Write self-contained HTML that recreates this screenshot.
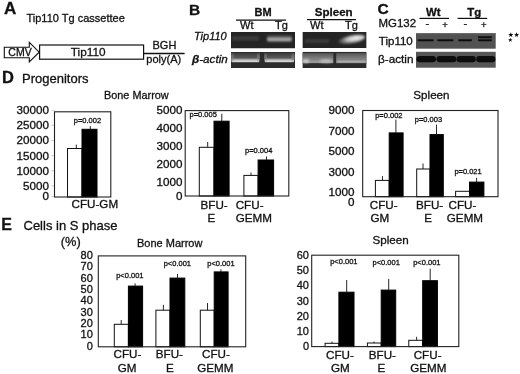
<!DOCTYPE html>
<html><head><meta charset="utf-8"><style>
html,body{margin:0;padding:0;background:#fff;}
body{width:520px;height:374px;overflow:hidden;}
svg{display:block;font-family:"Liberation Sans", sans-serif;filter:grayscale(1);}
text{stroke:#111;stroke-width:0.3px;paint-order:stroke;}
</style></head><body>
<svg width="520" height="374" viewBox="0 0 520 374">
<defs>
<filter id="blur1" x="-20%" y="-50%" width="140%" height="200%"><feGaussianBlur stdDeviation="0.9"/></filter>
<clipPath id="c1"><rect x="231" y="32" width="64" height="16.5"/></clipPath><clipPath id="c2"><rect x="231" y="52" width="64" height="16"/></clipPath><clipPath id="c3"><rect x="302.4" y="32" width="64.2" height="16"/></clipPath><clipPath id="c4"><rect x="302.4" y="51.7" width="64.2" height="16.3"/></clipPath><clipPath id="c5"><rect x="416" y="33" width="79.7" height="15.7"/></clipPath><clipPath id="c6"><rect x="416" y="51.8" width="79.7" height="15.9"/></clipPath>
<linearGradient id="gTip" x1="0" y1="0" x2="0" y2="1"><stop offset="0" stop-color="#444"/><stop offset="0.45" stop-color="#8a8a8a"/><stop offset="0.72" stop-color="#c8c8c8"/><stop offset="1" stop-color="#4a4a4a"/></linearGradient>
<linearGradient id="gUp" x1="0" y1="0" x2="0" y2="1"><stop offset="0" stop-color="#3a3a3a"/><stop offset="1" stop-color="#666"/></linearGradient>
<linearGradient id="gAct" x1="0" y1="0" x2="0" y2="1"><stop offset="0" stop-color="#8a8a8a"/><stop offset="0.55" stop-color="#d0d0d0"/><stop offset="0.8" stop-color="#d8d8d8"/><stop offset="1" stop-color="#666"/></linearGradient>
<linearGradient id="gActS" x1="0" y1="0" x2="0" y2="1"><stop offset="0" stop-color="#505050"/><stop offset="0.3" stop-color="#6e6e6e"/><stop offset="0.7" stop-color="#8a8a8a"/><stop offset="0.88" stop-color="#a2a2a2"/><stop offset="1" stop-color="#404040"/></linearGradient>
<radialGradient id="rTip" cx="0.68" cy="0.4" r="0.65"><stop offset="0" stop-color="#f4f4f4"/><stop offset="0.5" stop-color="#c8c8c8"/><stop offset="1" stop-color="#3a3a3a"/></radialGradient>
<filter id="blur04" x="-20%" y="-80%" width="140%" height="260%"><feGaussianBlur stdDeviation="0.4"/></filter>
<filter id="blur08" x="-20%" y="-80%" width="140%" height="260%"><feGaussianBlur stdDeviation="0.8"/></filter>
<filter id="blur05" x="-20%" y="-80%" width="140%" height="260%"><feGaussianBlur stdDeviation="0.5"/></filter>
</defs>
<rect width="520" height="374" fill="#fff"/>
<text x="4" y="13.6" font-size="17" font-weight="bold" font-style="normal" text-anchor="start" fill="#111" >A</text>
<text x="26.5" y="21.9" font-size="11" font-weight="normal" font-style="normal" text-anchor="start" fill="#111" >Tip110 Tg cassettee</text>
<polygon points="4.3,47.3 29.3,47.3 29.3,42.3 39.2,52.2 29.3,62 29.3,57.7 4.3,57.7" fill="#fff" stroke="#111" stroke-width="1.1"/>
<text x="8.3" y="55.5" font-size="10.5" font-weight="normal" font-style="normal" text-anchor="start" fill="#111" >CMV</text>
<rect x="39.6" y="45" width="104" height="14.2" fill="#fff" stroke="#111" stroke-width="1.2" />
<text x="88.2" y="55.6" font-size="11.8" font-weight="normal" font-style="normal" text-anchor="middle" fill="#111" >Tip110</text>
<line x1="143.6" y1="53.5" x2="184.6" y2="53.5" stroke="#111" stroke-width="1.4"/>
<text x="152.5" y="49.2" font-size="11" font-weight="normal" font-style="normal" text-anchor="start" fill="#111" >BGH</text>
<text x="146.3" y="63" font-size="11" font-weight="normal" font-style="normal" text-anchor="start" fill="#111" >poly(A)</text>
<text x="189" y="15" font-size="15.5" font-weight="bold" font-style="normal" text-anchor="start" fill="#111" >B</text>
<text x="254.5" y="15.9" font-size="11" font-weight="bold" font-style="normal" text-anchor="start" fill="#111" >BM</text>
<line x1="236" y1="20.2" x2="286" y2="20.2" stroke="#111" stroke-width="1.3"/>
<text x="240" y="28.8" font-size="11" font-weight="normal" font-style="normal" text-anchor="start" fill="#111" >Wt</text>
<text x="275" y="28.8" font-size="11" font-weight="normal" font-style="normal" text-anchor="start" fill="#111" >Tg</text>
<text transform="translate(314.8 16) scale(1.05 1)" font-size="11" font-weight="bold" font-style="normal" text-anchor="start" fill="#111" >Spleen</text>
<line x1="307" y1="19.6" x2="356" y2="19.6" stroke="#111" stroke-width="1.3"/>
<text x="310" y="28.8" font-size="11" font-weight="normal" font-style="normal" text-anchor="start" fill="#111" >Wt</text>
<text x="345" y="28.8" font-size="11" font-weight="normal" font-style="normal" text-anchor="start" fill="#111" >Tg</text>
<text x="194" y="40" font-size="11" font-weight="normal" font-style="italic" text-anchor="start" fill="#111" >Tip110</text>
<text transform="translate(192 62.5) scale(1.06 1)" font-size="11" font-style="italic" fill="#111"><tspan font-weight="bold">β</tspan>-actin</text>
<g clip-path="url(#c1)">
<rect x="231" y="32" width="64" height="16.5" fill="#242424" stroke="none" stroke-width="0" />
<rect x="232" y="36.3" width="27" height="4.2" fill="#3e3e3e" filter="url(#blur08)"/>
<rect x="267" y="35.6" width="24.8" height="6.2" rx="2" fill="url(#gTip)" filter="url(#blur08)"/>
</g>
<g clip-path="url(#c2)">
<rect x="231" y="52" width="64" height="16" fill="#2c2c2c" stroke="none" stroke-width="0" />
<rect x="231" y="52.8" width="28.80000000000001" height="7" fill="url(#gUp)" filter="url(#blur05)"/>
<rect x="231.5" y="58.6" width="27.80000000000001" height="4" rx="1.5" fill="url(#gAct)" filter="url(#blur05)"/>
<rect x="231.5" y="54" width="1.8" height="7" fill="#8a8a8a" filter="url(#blur08)"/>
<rect x="257.5" y="54" width="1.8" height="7" fill="#8a8a8a" filter="url(#blur08)"/>
<rect x="264.2" y="52.8" width="30.30000000000001" height="7" fill="url(#gUp)" filter="url(#blur05)"/>
<rect x="264.7" y="58.6" width="29.30000000000001" height="4" rx="1.5" fill="url(#gAct)" filter="url(#blur05)"/>
<rect x="264.7" y="54" width="1.8" height="7" fill="#8a8a8a" filter="url(#blur08)"/>
<rect x="292.2" y="54" width="1.8" height="7" fill="#8a8a8a" filter="url(#blur08)"/>
</g>
<g clip-path="url(#c3)">
<rect x="302.4" y="32" width="64.2" height="16" fill="#242424" stroke="none" stroke-width="0" />
<rect x="305" y="39.2" width="24" height="3.6" fill="#3c3c3c" filter="url(#blur08)"/>
<ellipse cx="351.5" cy="39.6" rx="13.8" ry="4" transform="rotate(-11 351.5 39.6)" fill="url(#rTip)" filter="url(#blur08)"/>
</g>
<g clip-path="url(#c4)">
<rect x="302.4" y="51.7" width="64.2" height="16.3" fill="#2c2c2c" stroke="none" stroke-width="0" />
<rect x="302.4" y="53" width="30.900000000000034" height="10.6" fill="url(#gActS)" filter="url(#blur05)"/>
<rect x="336.2" y="53" width="30.400000000000034" height="10.6" fill="url(#gActS)" filter="url(#blur05)"/>
<ellipse cx="306" cy="61" rx="3.2" ry="2" fill="#c8c8c8" filter="url(#blur08)"/>
<ellipse cx="326" cy="61" rx="6.5" ry="1.8" fill="#bdbdbd" filter="url(#blur08)"/>
<rect x="338" y="60.6" width="27" height="1.8" fill="#aaa" filter="url(#blur05)"/>
</g>
<text x="377.5" y="14" font-size="15.5" font-weight="bold" font-style="normal" text-anchor="start" fill="#111" >C</text>
<text transform="translate(426 15.9) scale(1.04 1)" font-size="11" font-weight="bold" font-style="normal" text-anchor="start" fill="#111" >Wt</text>
<text transform="translate(467.3 15.9) scale(1.04 1)" font-size="11" font-weight="bold" font-style="normal" text-anchor="start" fill="#111" >Tg</text>
<line x1="419.5" y1="18.4" x2="449.1" y2="18.4" stroke="#111" stroke-width="1.2"/>
<line x1="457.6" y1="18.4" x2="487.2" y2="18.4" stroke="#111" stroke-width="1.2"/>
<text transform="translate(378.5 27) scale(1.04 1)" font-size="11" font-weight="normal" font-style="normal" text-anchor="start" fill="#111" >MG132</text>
<text x="427.3" y="27.3" font-size="11" font-weight="normal" font-style="normal" text-anchor="middle" fill="#111" >-</text>
<text x="465.4" y="27.3" font-size="11" font-weight="normal" font-style="normal" text-anchor="middle" fill="#111" >-</text>
<text x="445.1" y="28.2" font-size="9.5" font-weight="normal" font-style="normal" text-anchor="middle" fill="#111" >+</text>
<text x="483.9" y="28.2" font-size="9.5" font-weight="normal" font-style="normal" text-anchor="middle" fill="#111" >+</text>
<text transform="translate(378.8 44.5) scale(1.05 1)" font-size="11" font-weight="normal" font-style="normal" text-anchor="start" fill="#111" >Tip110</text>
<text transform="translate(378 62.8) scale(1.07 1)" font-size="11" font-weight="normal" font-style="normal" text-anchor="start" fill="#111" >β-actin</text>
<rect x="416" y="33" width="79.7" height="15.7" fill="#525252" stroke="none" stroke-width="0" />
<rect x="416" y="51.8" width="79.7" height="15.9" fill="#565656" stroke="none" stroke-width="0" />
<g clip-path="url(#c5)">
<rect x="416" y="33" width="79.7" height="1.2" fill="#6a6a6a" filter="url(#blur05)"/>
<rect x="417.6" y="39.3" width="16.19999999999999" height="1.9" rx="0.9" fill="#0a0a0a" filter="url(#blur04)"/>
<rect x="437.3" y="39.3" width="16.19999999999999" height="1.9" rx="0.9" fill="#0a0a0a" filter="url(#blur04)"/>
<rect x="458.2" y="39.3" width="13.800000000000011" height="1.9" rx="0.9" fill="#0a0a0a" filter="url(#blur04)"/>
<rect x="478" y="39.3" width="14" height="1.9" rx="0.9" fill="#0a0a0a" filter="url(#blur04)"/>
<rect x="478" y="36.2" width="14" height="2" rx="0.9" fill="#0a0a0a" filter="url(#blur04)"/>
</g>
<g clip-path="url(#c6)">
<rect x="416.5" y="55.9" width="19.5" height="6.3" rx="3" fill="#0c0c0c" filter="url(#blur05)"/>
<rect x="436.5" y="55.9" width="19.80000000000001" height="6.3" rx="3" fill="#0c0c0c" filter="url(#blur05)"/>
<rect x="456.5" y="55.9" width="19.30000000000001" height="6.3" rx="3" fill="#0c0c0c" filter="url(#blur05)"/>
<rect x="476.2" y="55.9" width="19.30000000000001" height="6.3" rx="3" fill="#0c0c0c" filter="url(#blur05)"/>
</g>
<polygon points="510.80,32.30 511.48,33.97 513.27,34.10 511.89,35.26 512.33,37.00 510.80,36.05 509.27,37.00 509.71,35.26 508.33,34.10 510.12,33.97" fill="#111" filter="url(#blur04)"/>
<polygon points="516.60,32.30 517.28,33.97 519.07,34.10 517.69,35.26 518.13,37.00 516.60,36.05 515.07,37.00 515.51,35.26 514.13,34.10 515.92,33.97" fill="#111" filter="url(#blur04)"/>
<polygon points="510.30,37.80 510.89,39.19 512.39,39.32 511.25,40.31 511.59,41.78 510.30,41.00 509.01,41.78 509.35,40.31 508.21,39.32 509.71,39.19" fill="#111" filter="url(#blur04)"/>
<text x="2" y="83.4" font-size="16.5" font-weight="bold" font-style="normal" text-anchor="start" fill="#111" >D</text>
<text x="22" y="83.4" font-size="13" font-weight="normal" font-style="normal" text-anchor="start" fill="#111" >Progenitors</text>
<text x="1.3" y="230" font-size="16" font-weight="bold" font-style="normal" text-anchor="start" fill="#111" >E</text>
<text x="23.5" y="230" font-size="13" font-weight="normal" font-style="normal" text-anchor="start" fill="#111" >Cells in S phase</text>
<text x="60.8" y="245.6" font-size="12.8" font-weight="normal" font-style="normal" text-anchor="start" fill="#111" >(%)</text>
<line x1="51.5" y1="110.4" x2="54.5" y2="110.4" stroke="#aaa" stroke-width="0.6"/>
<text transform="translate(49.0 114.2) scale(1.06 1)" font-size="11" font-weight="normal" font-style="normal" text-anchor="end" fill="#111" >30000</text>
<line x1="51.5" y1="125.3" x2="54.5" y2="125.3" stroke="#aaa" stroke-width="0.6"/>
<text transform="translate(49.0 129.1) scale(1.06 1)" font-size="11" font-weight="normal" font-style="normal" text-anchor="end" fill="#111" >25000</text>
<line x1="51.5" y1="140.4" x2="54.5" y2="140.4" stroke="#aaa" stroke-width="0.6"/>
<text transform="translate(49.0 144.20000000000002) scale(1.06 1)" font-size="11" font-weight="normal" font-style="normal" text-anchor="end" fill="#111" >20000</text>
<line x1="51.5" y1="155.7" x2="54.5" y2="155.7" stroke="#aaa" stroke-width="0.6"/>
<text transform="translate(49.0 159.5) scale(1.06 1)" font-size="11" font-weight="normal" font-style="normal" text-anchor="end" fill="#111" >15000</text>
<line x1="51.5" y1="170.8" x2="54.5" y2="170.8" stroke="#aaa" stroke-width="0.6"/>
<text transform="translate(49.0 174.60000000000002) scale(1.06 1)" font-size="11" font-weight="normal" font-style="normal" text-anchor="end" fill="#111" >10000</text>
<line x1="51.5" y1="185.9" x2="54.5" y2="185.9" stroke="#aaa" stroke-width="0.6"/>
<text transform="translate(49.0 189.70000000000002) scale(1.06 1)" font-size="11" font-weight="normal" font-style="normal" text-anchor="end" fill="#111" >5000</text>
<line x1="51.5" y1="196.5" x2="54.5" y2="196.5" stroke="#aaa" stroke-width="0.6"/>
<text transform="translate(49.0 200.3) scale(1.06 1)" font-size="11" font-weight="normal" font-style="normal" text-anchor="end" fill="#111" >0</text>
<rect x="67.5" y="148.5" width="14.5" height="48.5" fill="#fff" stroke="#111" stroke-width="1" />
<rect x="82" y="129.3" width="15" height="67.69999999999999" fill="#000" stroke="#000" stroke-width="1" />
<line x1="76.3" y1="144.6" x2="76.3" y2="148.5" stroke="#111" stroke-width="0.9"/>
<line x1="90.3" y1="126" x2="90.3" y2="129.3" stroke="#111" stroke-width="0.9"/>
<rect x="54.5" y="111.8" width="56.3" height="85.2" fill="none" stroke="#222" stroke-width="1.1" />
<text x="73.8" y="122.6" font-size="7.5" font-weight="normal" font-style="normal" text-anchor="start" fill="#111" >p=0.002</text>
<text transform="translate(71.5 208.1) scale(1.06 1)" font-size="11" font-weight="normal" font-style="normal" text-anchor="start" fill="#111" >CFU-GM</text>
<text transform="translate(104 98.8) scale(0.99 1)" font-size="11" font-weight="normal" font-style="normal" text-anchor="start" fill="#111" >Bone Marrow</text>
<text transform="translate(182.39999999999998 114.0) scale(1.06 1)" font-size="11" font-weight="normal" font-style="normal" text-anchor="end" fill="#111" >5000</text>
<text transform="translate(182.39999999999998 131.9) scale(1.06 1)" font-size="11" font-weight="normal" font-style="normal" text-anchor="end" fill="#111" >4000</text>
<text transform="translate(182.39999999999998 150.0) scale(1.06 1)" font-size="11" font-weight="normal" font-style="normal" text-anchor="end" fill="#111" >3000</text>
<text transform="translate(182.39999999999998 168.2) scale(1.06 1)" font-size="11" font-weight="normal" font-style="normal" text-anchor="end" fill="#111" >2000</text>
<text transform="translate(182.39999999999998 186.29999999999998) scale(1.06 1)" font-size="11" font-weight="normal" font-style="normal" text-anchor="end" fill="#111" >1000</text>
<text transform="translate(182.39999999999998 200.1) scale(1.06 1)" font-size="11" font-weight="normal" font-style="normal" text-anchor="end" fill="#111" >0</text>
<rect x="199.3" y="147.3" width="14.699999999999989" height="48.69999999999999" fill="#fff" stroke="#111" stroke-width="1" />
<rect x="214" y="121.2" width="15.099999999999994" height="74.8" fill="#000" stroke="#000" stroke-width="1" />
<rect x="243.9" y="175.4" width="14.200000000000017" height="20.599999999999994" fill="#fff" stroke="#111" stroke-width="1" />
<rect x="258.1" y="160" width="15.5" height="36" fill="#000" stroke="#000" stroke-width="1" />
<line x1="207.7" y1="142" x2="207.7" y2="147.3" stroke="#111" stroke-width="0.9"/>
<line x1="221.8" y1="113.8" x2="221.8" y2="121.2" stroke="#111" stroke-width="0.9"/>
<line x1="251" y1="172.5" x2="251" y2="175.4" stroke="#111" stroke-width="0.9"/>
<line x1="266.5" y1="156.5" x2="266.5" y2="160" stroke="#111" stroke-width="0.9"/>
<rect x="185.2" y="110.6" width="103.60000000000002" height="85.4" fill="none" stroke="#222" stroke-width="1.1" />
<text x="189.5" y="116.6" font-size="7.5" font-weight="normal" font-style="normal" text-anchor="start" fill="#111" >p=0.005</text>
<text x="245" y="153.1" font-size="7.5" font-weight="normal" font-style="normal" text-anchor="start" fill="#111" >p=0.004</text>
<text transform="translate(200.5 208.7) scale(1.06 1)" font-size="11" font-weight="normal" font-style="normal" text-anchor="start" fill="#111" >BFU-</text>
<text transform="translate(207.5 222.2) scale(1.06 1)" font-size="11" font-weight="normal" font-style="normal" text-anchor="start" fill="#111" >E</text>
<text transform="translate(235.7 208.7) scale(1.06 1)" font-size="11" font-weight="normal" font-style="normal" text-anchor="start" fill="#111" >CFU-</text>
<text transform="translate(235.7 222.2) scale(1.06 1)" font-size="11" font-weight="normal" font-style="normal" text-anchor="start" fill="#111" >GEMM</text>
<text transform="translate(354.4 114.1) scale(1.06 1)" font-size="11" font-weight="normal" font-style="normal" text-anchor="end" fill="#111" >9000</text>
<text transform="translate(354.4 134.8) scale(1.06 1)" font-size="11" font-weight="normal" font-style="normal" text-anchor="end" fill="#111" >7000</text>
<text transform="translate(354.4 155.3) scale(1.06 1)" font-size="11" font-weight="normal" font-style="normal" text-anchor="end" fill="#111" >5000</text>
<text transform="translate(354.4 175.60000000000002) scale(1.06 1)" font-size="11" font-weight="normal" font-style="normal" text-anchor="end" fill="#111" >3000</text>
<text transform="translate(354.4 195.70000000000002) scale(1.06 1)" font-size="11" font-weight="normal" font-style="normal" text-anchor="end" fill="#111" >1000</text>
<text transform="translate(354.4 205.60000000000002) scale(1.06 1)" font-size="11" font-weight="normal" font-style="normal" text-anchor="end" fill="#111" >0</text>
<rect x="375.4" y="180.4" width="13.800000000000011" height="16.299999999999983" fill="#fff" stroke="#111" stroke-width="1" />
<rect x="389.2" y="132.9" width="13.900000000000034" height="63.79999999999998" fill="#000" stroke="#000" stroke-width="1" />
<rect x="416.7" y="169" width="13.300000000000011" height="27.69999999999999" fill="#fff" stroke="#111" stroke-width="1" />
<rect x="430" y="134.6" width="13.300000000000011" height="62.099999999999994" fill="#000" stroke="#000" stroke-width="1" />
<rect x="455.6" y="191.3" width="13.899999999999977" height="5.399999999999977" fill="#fff" stroke="#111" stroke-width="1" />
<rect x="469.5" y="182.1" width="14.399999999999977" height="14.599999999999994" fill="#000" stroke="#000" stroke-width="1" />
<line x1="382.5" y1="176.2" x2="382.5" y2="180.4" stroke="#111" stroke-width="0.9"/>
<line x1="395.9" y1="119.6" x2="395.9" y2="132.9" stroke="#111" stroke-width="0.9"/>
<line x1="423" y1="163.5" x2="423" y2="169" stroke="#111" stroke-width="0.9"/>
<line x1="436.5" y1="124.6" x2="436.5" y2="134.6" stroke="#111" stroke-width="0.9"/>
<line x1="476.6" y1="177.8" x2="476.6" y2="182.1" stroke="#111" stroke-width="0.9"/>
<rect x="362.7" y="110.5" width="135.3" height="86.19999999999999" fill="none" stroke="#222" stroke-width="1.1" />
<text x="375.2" y="118" font-size="7.5" font-weight="normal" font-style="normal" text-anchor="start" fill="#111" >p=0.002</text>
<text x="414.8" y="121.7" font-size="7.5" font-weight="normal" font-style="normal" text-anchor="start" fill="#111" >p=0.003</text>
<text x="454.4" y="173.5" font-size="7.5" font-weight="normal" font-style="normal" text-anchor="start" fill="#111" >p=0.021</text>
<text transform="translate(369.8 208.5) scale(1.06 1)" font-size="11" font-weight="normal" font-style="normal" text-anchor="start" fill="#111" >CFU-</text>
<text transform="translate(370.5 222.2) scale(1.06 1)" font-size="11" font-weight="normal" font-style="normal" text-anchor="start" fill="#111" >GM</text>
<text transform="translate(416 208.5) scale(1.06 1)" font-size="11" font-weight="normal" font-style="normal" text-anchor="start" fill="#111" >BFU-</text>
<text transform="translate(424.2 222.2) scale(1.06 1)" font-size="11" font-weight="normal" font-style="normal" text-anchor="start" fill="#111" >E</text>
<text transform="translate(448.5 208.5) scale(1.06 1)" font-size="11" font-weight="normal" font-style="normal" text-anchor="start" fill="#111" >CFU-</text>
<text transform="translate(446.8 222.2) scale(1.06 1)" font-size="11" font-weight="normal" font-style="normal" text-anchor="start" fill="#111" >GEMM</text>
<text transform="translate(413.3 98.6) scale(1.06 1)" font-size="11" font-weight="normal" font-style="normal" text-anchor="start" fill="#111" >Spleen</text>
<text x="92.8" y="258.9" font-size="11" font-weight="normal" font-style="normal" text-anchor="end" fill="#111" >80</text>
<text x="92.8" y="270.25" font-size="11" font-weight="normal" font-style="normal" text-anchor="end" fill="#111" >70</text>
<text x="92.8" y="281.6" font-size="11" font-weight="normal" font-style="normal" text-anchor="end" fill="#111" >60</text>
<text x="92.8" y="292.95" font-size="11" font-weight="normal" font-style="normal" text-anchor="end" fill="#111" >50</text>
<text x="92.8" y="304.3" font-size="11" font-weight="normal" font-style="normal" text-anchor="end" fill="#111" >40</text>
<text x="92.8" y="315.65000000000003" font-size="11" font-weight="normal" font-style="normal" text-anchor="end" fill="#111" >30</text>
<text x="92.8" y="327.0" font-size="11" font-weight="normal" font-style="normal" text-anchor="end" fill="#111" >20</text>
<text x="92.8" y="338.35" font-size="11" font-weight="normal" font-style="normal" text-anchor="end" fill="#111" >10</text>
<text x="92.8" y="349.7" font-size="11" font-weight="normal" font-style="normal" text-anchor="end" fill="#111" >0</text>
<rect x="114.3" y="324.3" width="14.100000000000009" height="22.5" fill="#fff" stroke="#111" stroke-width="1" />
<rect x="128.4" y="286.1" width="14.199999999999989" height="60.69999999999999" fill="#000" stroke="#000" stroke-width="1" />
<rect x="155.9" y="310.2" width="14.099999999999994" height="36.60000000000002" fill="#fff" stroke="#111" stroke-width="1" />
<rect x="170" y="278.1" width="14.800000000000011" height="68.69999999999999" fill="#000" stroke="#000" stroke-width="1" />
<rect x="200.3" y="310.2" width="13.899999999999977" height="36.60000000000002" fill="#fff" stroke="#111" stroke-width="1" />
<rect x="214.2" y="271.9" width="13.900000000000006" height="74.90000000000003" fill="#000" stroke="#000" stroke-width="1" />
<line x1="121.2" y1="320" x2="121.2" y2="324.3" stroke="#111" stroke-width="0.9"/>
<line x1="135.1" y1="283.4" x2="135.1" y2="286.1" stroke="#111" stroke-width="0.9"/>
<line x1="163.4" y1="304.8" x2="163.4" y2="310.2" stroke="#111" stroke-width="0.9"/>
<line x1="177.5" y1="274" x2="177.5" y2="278.1" stroke="#111" stroke-width="0.9"/>
<line x1="207.5" y1="303" x2="207.5" y2="310.2" stroke="#111" stroke-width="0.9"/>
<line x1="220.9" y1="269.3" x2="220.9" y2="271.9" stroke="#111" stroke-width="0.9"/>
<rect x="98.3" y="255.9" width="147.39999999999998" height="90.9" fill="none" stroke="#222" stroke-width="1.1" />
<text x="116.2" y="278.1" font-size="7.5" font-weight="normal" font-style="normal" text-anchor="start" fill="#111" >p&lt;0.001</text>
<text x="163.7" y="266" font-size="7.5" font-weight="normal" font-style="normal" text-anchor="start" fill="#111" >p&lt;0.001</text>
<text x="207.3" y="266" font-size="7.5" font-weight="normal" font-style="normal" text-anchor="start" fill="#111" >p&lt;0.001</text>
<text transform="translate(113.5 357.9) scale(1.06 1)" font-size="11" font-weight="normal" font-style="normal" text-anchor="start" fill="#111" >CFU-</text>
<text transform="translate(117.8 371.7) scale(1.06 1)" font-size="11" font-weight="normal" font-style="normal" text-anchor="start" fill="#111" >GM</text>
<text transform="translate(155.8 357.9) scale(1.06 1)" font-size="11" font-weight="normal" font-style="normal" text-anchor="start" fill="#111" >BFU-</text>
<text transform="translate(166 371.7) scale(1.06 1)" font-size="11" font-weight="normal" font-style="normal" text-anchor="start" fill="#111" >E</text>
<text transform="translate(202 357.9) scale(1.06 1)" font-size="11" font-weight="normal" font-style="normal" text-anchor="start" fill="#111" >CFU-</text>
<text transform="translate(197.2 371.7) scale(1.06 1)" font-size="11" font-weight="normal" font-style="normal" text-anchor="start" fill="#111" >GEMM</text>
<text x="137" y="247.3" font-size="11" font-weight="normal" font-style="normal" text-anchor="start" fill="#111" >Bone Marrow</text>
<text x="309.0" y="259.0" font-size="11" font-weight="normal" font-style="normal" text-anchor="end" fill="#111" >60</text>
<text x="309.0" y="274.2" font-size="11" font-weight="normal" font-style="normal" text-anchor="end" fill="#111" >50</text>
<text x="309.0" y="289.4" font-size="11" font-weight="normal" font-style="normal" text-anchor="end" fill="#111" >40</text>
<text x="309.0" y="304.59999999999997" font-size="11" font-weight="normal" font-style="normal" text-anchor="end" fill="#111" >30</text>
<text x="309.0" y="319.8" font-size="11" font-weight="normal" font-style="normal" text-anchor="end" fill="#111" >20</text>
<text x="309.0" y="335.0" font-size="11" font-weight="normal" font-style="normal" text-anchor="end" fill="#111" >10</text>
<text x="309.0" y="350.2" font-size="11" font-weight="normal" font-style="normal" text-anchor="end" fill="#111" >0</text>
<rect x="325.1" y="343.3" width="13.799999999999955" height="3.3000000000000114" fill="#fff" stroke="#111" stroke-width="1" />
<rect x="338.9" y="292.2" width="15.100000000000023" height="54.400000000000034" fill="#000" stroke="#000" stroke-width="1" />
<rect x="367.4" y="343" width="13.800000000000011" height="3.6000000000000227" fill="#fff" stroke="#111" stroke-width="1" />
<rect x="381.2" y="290.1" width="14.5" height="56.5" fill="#000" stroke="#000" stroke-width="1" />
<rect x="408.8" y="340.3" width="13.899999999999977" height="6.300000000000011" fill="#fff" stroke="#111" stroke-width="1" />
<rect x="422.7" y="280.7" width="14.699999999999989" height="65.90000000000003" fill="#000" stroke="#000" stroke-width="1" />
<line x1="346.7" y1="280" x2="346.7" y2="292.2" stroke="#111" stroke-width="0.9"/>
<line x1="388.7" y1="278.9" x2="388.7" y2="290.1" stroke="#111" stroke-width="0.9"/>
<line x1="430.2" y1="268.7" x2="430.2" y2="280.7" stroke="#111" stroke-width="0.9"/>
<line x1="416.6" y1="336.8" x2="416.6" y2="340.3" stroke="#111" stroke-width="0.9"/>
<line x1="332" y1="341.5" x2="332" y2="343.3" stroke="#111" stroke-width="0.9"/>
<line x1="374" y1="341.5" x2="374" y2="343" stroke="#111" stroke-width="0.9"/>
<rect x="311.7" y="255.2" width="147.10000000000002" height="91.40000000000003" fill="none" stroke="#222" stroke-width="1.1" />
<text x="330.2" y="264.2" font-size="7.5" font-weight="normal" font-style="normal" text-anchor="start" fill="#111" >p&lt;0.001</text>
<text x="372.5" y="264.7" font-size="7.5" font-weight="normal" font-style="normal" text-anchor="start" fill="#111" >p&lt;0.001</text>
<text x="413.2" y="264.7" font-size="7.5" font-weight="normal" font-style="normal" text-anchor="start" fill="#111" >p&lt;0.001</text>
<text transform="translate(326 359.1) scale(1.06 1)" font-size="11" font-weight="normal" font-style="normal" text-anchor="start" fill="#111" >CFU-</text>
<text transform="translate(331 371.7) scale(1.06 1)" font-size="11" font-weight="normal" font-style="normal" text-anchor="start" fill="#111" >GM</text>
<text transform="translate(368.8 359.1) scale(1.06 1)" font-size="11" font-weight="normal" font-style="normal" text-anchor="start" fill="#111" >BFU-</text>
<text transform="translate(377.6 371.7) scale(1.06 1)" font-size="11" font-weight="normal" font-style="normal" text-anchor="start" fill="#111" >E</text>
<text transform="translate(413.7 359.1) scale(1.06 1)" font-size="11" font-weight="normal" font-style="normal" text-anchor="start" fill="#111" >CFU-</text>
<text transform="translate(410.2 371.7) scale(1.06 1)" font-size="11" font-weight="normal" font-style="normal" text-anchor="start" fill="#111" >GEMM</text>
<text transform="translate(372.4 244) scale(1.06 1)" font-size="11" font-weight="normal" font-style="normal" text-anchor="start" fill="#111" >Spleen</text>
</svg>
</body></html>
